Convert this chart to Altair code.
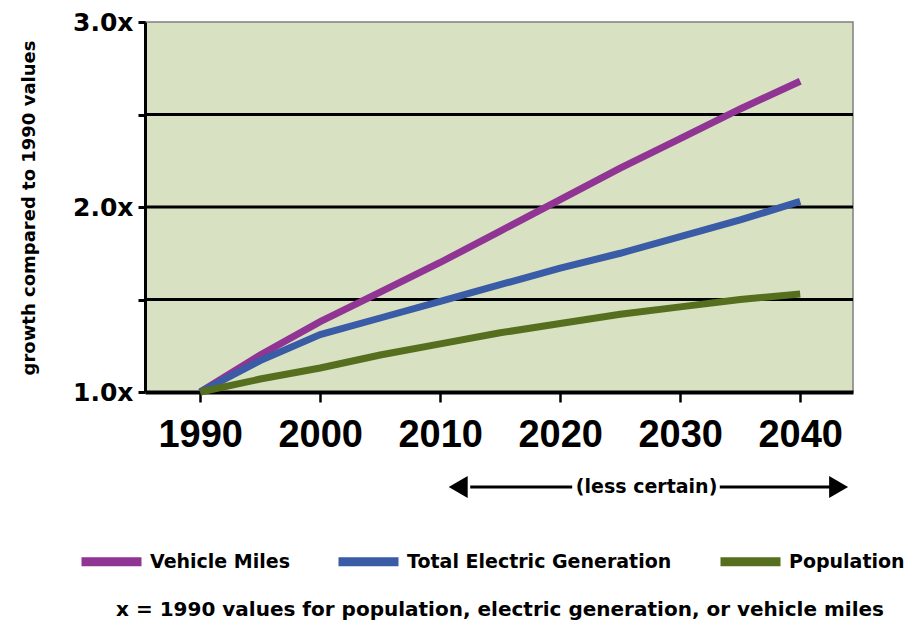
import altair as alt
import pandas as pd

years = [1990, 1995, 2000, 2005, 2010, 2015, 2020, 2025, 2030, 2035, 2040]
vehicle_miles = [1.00, 1.20, 1.38, 1.54, 1.70, 1.87, 2.04, 2.21, 2.37, 2.53, 2.68]
electric_generation = [1.00, 1.17, 1.31, 1.40, 1.49, 1.58, 1.67, 1.75, 1.84, 1.93, 2.03]
population = [1.00, 1.07, 1.13, 1.20, 1.26, 1.32, 1.37, 1.42, 1.46, 1.50, 1.53]
series_names = ["Vehicle Miles", "Total Electric Generation", "Population"]
series_colors = ["#913594", "#3a5ba5", "#556f1f"]
x_ticks = [1990, 2000, 2010, 2020, 2030, 2040]
y_ticks = [1.0, 1.5, 2.0, 2.5, 3.0]
gridlines = [1.5, 2.0, 2.5]
arrow_left = [2012.5, 2021.0]
arrow_right = [2033.3, 2043.0]
arrow_heads = [2011.5, 2043.2]
annotation_year = 2027.2
y_title = "growth compared to 1990 values"
annotation = "(less certain)"
footnote = "x = 1990 values for population, electric generation, or vehicle miles"

COND = "DejaVu Sans, Liberation Sans, sans-serif"
BOLD = "Liberation Sans, Arial, sans-serif"

rows = []
for name, vals in zip(series_names, [vehicle_miles, electric_generation, population]):
    for y, v in zip(years, vals):
        rows.append({"year": y, "value": v, "series": name})
df = pd.DataFrame(rows)

xs = alt.Scale(domain=[1985.4, 2044.4], nice=False, zero=False)
ys = alt.Scale(domain=[1.0, 3.0], nice=False, zero=False)

x_axis = alt.Axis(values=x_ticks, format="d", labelFont=BOLD, labelFontSize=38,
                  labelFontWeight="bold", labelColor="black", labelPadding=14,
                  tickSize=10, tickWidth=2.5, tickColor="black", domainColor="black",
                  domainWidth=4, grid=False, title=None, labelFlush=False)
y_axis = alt.Axis(values=y_ticks, labelExpr="datum.value % 1 == 0 ? format(datum.value, '.1f') + 'x' : ''",
                  labelFont=COND, labelFontSize=25, labelFontWeight="bold", labelColor="black",
                  labelPadding=5, tickSize=7, tickWidth=3, tickColor="black", domainColor="black",
                  domainWidth=3, grid=False, title=None)

base_axes = alt.Chart(df).mark_line(opacity=0).encode(
    x=alt.X("year:Q", scale=xs, axis=x_axis),
    y=alt.Y("value:Q", scale=ys, axis=y_axis),
)

grid = alt.Chart(pd.DataFrame({"g": gridlines})).mark_rule(color="black", strokeWidth=3).encode(
    y=alt.Y("g:Q", scale=ys)
)

lines = alt.Chart(df).mark_line(strokeWidth=7, strokeCap="butt").encode(
    x=alt.X("year:Q", scale=xs),
    y=alt.Y("value:Q", scale=ys),
    color=alt.Color("series:N", scale=alt.Scale(domain=series_names, range=series_colors),
                    sort=series_names,
                    legend=alt.Legend(orient="none", legendX=-68, legendY=505, direction="horizontal",
                                      symbolType="stroke", symbolStrokeWidth=9, symbolSize=3600,
                                      labelFont=COND, labelFontSize=19, labelFontWeight="bold",
                                      labelColor="black", columnPadding=30, title=None, labelLimit=500,
                                      labelOffset=4)),
    order=alt.Order("year:Q"),
)

arrow_df = pd.DataFrame({"x": [arrow_left[0], arrow_right[0]], "x2": [arrow_left[1], arrow_right[1]]})
arrows = alt.Chart(arrow_df).mark_rule(color="black", strokeWidth=3).encode(
    x=alt.X("x:Q", scale=xs), x2="x2:Q", y=alt.value(465)
)
heads = alt.Chart(pd.DataFrame({"x": arrow_heads, "s": ["triangle-left", "triangle-right"]})).mark_point(
    filled=True, color="black", size=480, opacity=1
).encode(
    x=alt.X("x:Q", scale=xs), y=alt.value(465),
    shape=alt.Shape("s:N", scale=None, legend=None),
)
ann = alt.Chart(pd.DataFrame({"x": [annotation_year], "t": [annotation]})).mark_text(
    font=COND, fontSize=19, fontWeight="bold", color="black", baseline="middle", align="center"
).encode(x=alt.X("x:Q", scale=xs), y=alt.value(465), text="t:N")

ytitle = alt.Chart(pd.DataFrame({"t": [y_title]})).mark_text(
    font=COND, fontSize=18, fontWeight="bold", color="black", angle=270, baseline="middle", align="center"
).encode(x=alt.value(-115), y=alt.value(186), text="t:N")

foot = alt.Chart(pd.DataFrame({"t": [footnote]})).mark_text(
    font=COND, fontSize=20, fontWeight="bold", color="black", baseline="middle", align="center"
).encode(x=alt.value(355), y=alt.value(588), text="t:N")

chart = alt.layer(base_axes, grid, lines, arrows, heads, ann, ytitle, foot).properties(
    width=708, height=370,
    autosize=alt.AutoSizeParams(type="none"),
    padding={"left": 145, "top": 22, "right": 57, "bottom": 241},
    background="white",
).configure_view(fill="#d9e1c3", stroke="#808080", strokeWidth=1.5)

chart.save("out.html", embed_options={"renderer": "svg", "actions": False})
